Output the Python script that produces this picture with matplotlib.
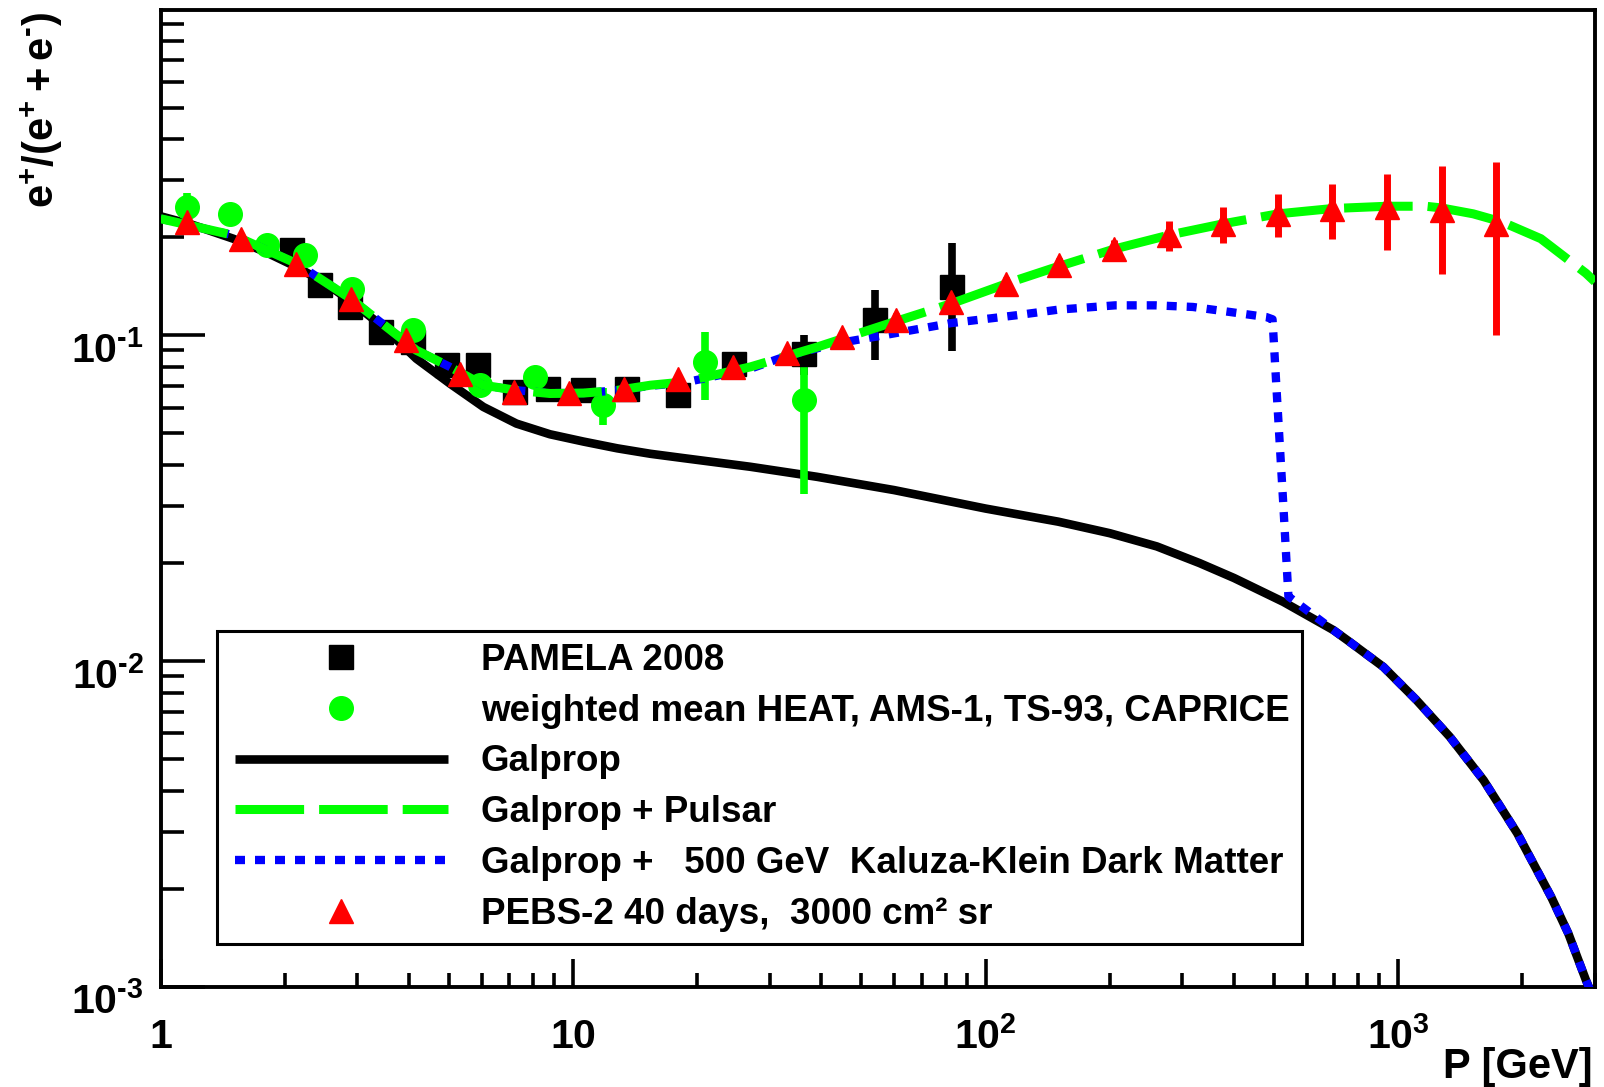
import numpy as np
import matplotlib
matplotlib.use('Agg')
import matplotlib.pyplot as plt
from matplotlib.lines import Line2D
from matplotlib.legend_handler import HandlerLine2D
from matplotlib.transforms import ScaledTranslation
from matplotlib.ticker import FixedLocator, NullFormatter

plt.rcParams['font.family'] = ['Liberation Sans', 'DejaVu Sans']
plt.rcParams['font.weight'] = 'bold'
plt.rcParams['mathtext.fontset'] = 'custom'
plt.rcParams['mathtext.rm'] = 'Liberation Sans:bold'
plt.rcParams['mathtext.it'] = 'Liberation Sans:bold'
plt.rcParams['mathtext.bf'] = 'Liberation Sans:bold'
plt.rcParams['mathtext.sf'] = 'Liberation Sans:bold'
plt.rcParams['mathtext.default'] = 'rm'

HY = '\u2010'  # short hyphen used as superscript minus

# ---------------- data ----------------
pam_x = [2.08, 2.44, 2.88, 3.42, 4.10, 4.94, 5.89, 7.23, 8.71, 10.6, 13.5, 18.0, 24.5, 36.2, 54.0, 82.8]
pam_y = [0.1823, 0.1424, 0.1221, 0.1023, 0.0954, 0.0809, 0.0809, 0.0670, 0.0686, 0.0678, 0.0686,
         0.0655, 0.0819, 0.0879, 0.1112, 0.1406]
pam_err = [0.004, 0.003, 0.003, 0.002, 0.002, 0.002, 0.002, 0.002, 0.002, 0.002, 0.003,
           0.004, 0.007, 0.0125, 0.027, 0.051]

heat_x = [1.159, 1.474, 1.809, 2.24, 2.91, 4.10, 5.95, 8.09, 11.85, 20.9, 36.2]
heat_y = [0.2475, 0.2363, 0.1888, 0.176, 0.139, 0.1036, 0.0703, 0.0745, 0.0610, 0.0828, 0.0635]
heat_err = [0.025, 0.012, 0.006, 0.006, 0.006, 0.005, 0.004, 0.004, 0.008, 0.0195, 0.031]

pebs_x = [1.16, 1.57, 2.13, 2.89, 3.93, 5.32, 7.21, 9.77, 13.3, 18.0, 24.4, 33.0, 44.8, 60.8,
          82.4, 112, 151, 205, 278, 377, 512, 693, 940, 1274, 1726]
pebs_y = [0.2226, 0.198, 0.166, 0.1296, 0.0965, 0.0763, 0.067, 0.0665, 0.0686, 0.0736, 0.080,
          0.0882, 0.0988, 0.1117, 0.1265, 0.1441, 0.164, 0.1836, 0.2026, 0.220, 0.2363, 0.2447,
          0.2475, 0.2418, 0.220]
pebs_err = [0.003, 0.003, 0.003, 0.003, 0.003, 0.002, 0.002, 0.002, 0.002, 0.002, 0.003, 0.003,
            0.004, 0.005, 0.006, 0.007, 0.009, 0.013, 0.021, 0.0275, 0.036, 0.047, 0.065, 0.088, 0.12]

gal_x = [1.0, 1.2, 1.5, 1.8, 2.14, 2.5, 2.88, 3.47, 4.17, 5.03, 6.06, 7.29, 8.79, 10.6, 12.8,
         15.4, 18.5, 26.9, 39.0, 60, 100, 150, 200, 260, 330, 400, 527, 697, 760, 921, 1107, 1334,
         1611, 1945, 2349, 2585, 2852, 3000]
gal_y = [0.232, 0.218, 0.198, 0.180, 0.162, 0.145, 0.1278, 0.106, 0.0848, 0.0711, 0.0603, 0.0536,
         0.0497, 0.0472, 0.0450, 0.0433, 0.0420, 0.0395, 0.0368, 0.0335, 0.0294, 0.0268, 0.0247,
         0.0225, 0.0200, 0.0180, 0.0152, 0.01245, 0.0115, 0.0096, 0.0076, 0.00586, 0.00431,
         0.00296, 0.00189, 0.00146, 0.00105, 0.0009]

psr_x = [1.0, 1.5, 2.14, 2.88, 3.47, 4.17, 5.03, 6.06, 7.29, 8.79, 10.6, 12.8, 15.4, 18.5, 26.9,
         39.0, 56.5, 82.4, 118.5, 144, 205, 278, 377, 512, 693, 940, 1167, 1274, 1520, 1790, 2217,
         2853, 3000]
psr_y = [0.228, 0.203, 0.166, 0.130, 0.108, 0.090, 0.080, 0.0703, 0.0678, 0.0663, 0.0665, 0.0678,
         0.0703, 0.0719, 0.080, 0.092, 0.1073, 0.125, 0.1475, 0.160, 0.184, 0.203, 0.220, 0.236,
         0.245, 0.249, 0.249, 0.246, 0.236, 0.2226, 0.198, 0.155, 0.146]

kk_x = [1.0, 1.5, 2.14, 2.88, 3.47, 4.17, 5.03, 6.06, 7.29, 8.79, 10.6, 12.8, 15.4, 18.5, 26.9,
        33.0, 43.5, 56.5, 82.4, 118.5, 150, 206, 258, 318, 392, 479, 496, 509, 526, 542, 697, 760,
        921, 1107, 1334, 1611, 1945, 2349, 2585, 2852, 3000]
kk_y = [0.228, 0.203, 0.166, 0.130, 0.108, 0.090, 0.080, 0.0703, 0.0678, 0.0665, 0.0665, 0.0678,
        0.0700, 0.0715, 0.079, 0.0865, 0.0944, 0.100, 0.109, 0.1152, 0.1199, 0.1236, 0.1236,
        0.1222, 0.1179, 0.1138, 0.112, 0.0633, 0.0312, 0.0158, 0.01245, 0.0115, 0.0096, 0.0076,
        0.00586, 0.00431, 0.00296, 0.00189, 0.00146, 0.00105, 0.0009]

x_major = [1, 10, 100, 1000]
x_major_labels = ['$1$', '$10$', '$10^{2}$', '$10^{3}$']
y_major = [1e-3, 1e-2, 1e-1]
y_major_labels = ['$10^{%s3}$' % HY, '$10^{%s2}$' % HY, '$10^{%s1}$' % HY]

labels = ['PAMELA 2008',
          'weighted mean HEAT, AMS-1, TS-93, CAPRICE',
          'Galprop',
          'Galprop + Pulsar',
          'Galprop +   500 GeV  Kaluza-Klein Dark Matter',
          'PEBS-2 40 days,  3000 cm\u00b2 sr']

GREEN = '#00ff00'
RED = '#ff0000'
BLUE = '#0000ff'

# ---------------- figure ----------------
W, H = 1604, 1087
fig = plt.figure(figsize=(W / 100, H / 100), dpi=100)
L, R, T, B = 160.5, 1595, 9.5, 987
ax = fig.add_axes([L / W, 1 - B / H, (R - L) / W, (B - T) / H])
ax.set_xscale('log')
ax.set_yscale('log')
ax.set_xlim(1, 3000)
ax.set_ylim(1e-3, 1)

gal_line, = ax.plot(gal_x, gal_y, color='black', lw=6.2, solid_capstyle='butt', zorder=2)
ax.errorbar(pam_x, pam_y, yerr=pam_err, fmt='s', color='black', ms=17.5,
            elinewidth=5.5, capsize=0, zorder=3)
ax.errorbar(heat_x, heat_y, yerr=heat_err, fmt='o', color=GREEN, ms=17,
            elinewidth=5.5, capsize=0, zorder=3)
kk_line, = ax.plot(kk_x, kk_y, color=BLUE, lw=6, ls=(0, (1.2, 1.2)),
                   dash_capstyle='butt', zorder=4)
psr_line, = ax.plot(psr_x, psr_y, color=GREEN, lw=6.5, ls=(0, (7.6, 1.66)),
                    dash_capstyle='butt', zorder=5)
ax.errorbar(pebs_x, pebs_y, yerr=pebs_err, fmt='^', color=RED, ms=17.5,
            elinewidth=5, capsize=0, zorder=6)

# spines
for s in ax.spines.values():
    s.set_linewidth(2.8)

# ticks
ax.xaxis.set_major_locator(FixedLocator(x_major))
ax.set_xticklabels(x_major_labels)
ax.xaxis.set_minor_locator(FixedLocator([m * d for d in [1, 10, 100, 1000] for m in range(2, 10)]))
ax.xaxis.set_minor_formatter(NullFormatter())
ax.yaxis.set_major_locator(FixedLocator(y_major))
ax.set_yticklabels(y_major_labels)
ax.yaxis.set_minor_locator(FixedLocator([m * d for d in [1e-3, 1e-2, 1e-1] for m in range(2, 10)]))
ax.yaxis.set_minor_formatter(NullFormatter())

ax.tick_params(axis='x', which='major', direction='in', length=20, width=2.6,
               labelsize=29.5, pad=44, top=False)
ax.tick_params(axis='x', which='minor', direction='in', length=10, width=2.6, top=False)
ax.tick_params(axis='y', which='major', direction='in', length=32, width=2.6,
               labelsize=29.5, pad=12, right=False)
ax.tick_params(axis='y', which='minor', direction='in', length=16.5, width=2.6, right=False)

for lbl in ax.get_xticklabels():
    lbl.set_va('baseline')
for lbl in ax.get_yticklabels():
    lbl.set_va('baseline')
    lbl.set_transform(lbl.get_transform() + ScaledTranslation(0, -0.27, fig.dpi_scale_trans))

# axis titles
fig.text(42 / W, 1 - 12 / H, r'$e^{+}/(e^{+}+e^{%s})$' % HY, rotation=90, ha='center', va='top',
         fontsize=30)
fig.text(1593 / W, 1 - 1078 / H, 'P [GeV]', ha='right', va='baseline', fontsize=30,
         fontweight='bold')

# legend
h_pam = Line2D([], [], ls='none', marker='s', color='black', ms=17.5)
h_heat = Line2D([], [], ls='none', marker='o', color=GREEN, ms=17)
h_pebs = Line2D([], [], ls='none', marker='^', color=RED, ms=17.5)
handles = [h_pam, h_heat, gal_line, psr_line, kk_line, h_pebs]

lx0 = (217 - L) / (R - L)
lx1 = (1302 - L) / (R - L)
ly0 = (B - 938) / (B - T)
ly1 = (B - 631) / (B - T)
hl = HandlerLine2D(numpoints=2, marker_pad=0.17)
leg = ax.legend(handles, labels, loc='upper left',
                bbox_to_anchor=(lx0, ly0, lx1 - lx0, ly1 - ly0), mode='expand',
                borderaxespad=0, fontsize=26.5, numpoints=1, borderpad=0.32,
                labelspacing=0.43, handlelength=6.12, handletextpad=0.73,
                handler_map={gal_line: hl, psr_line: hl, kk_line: hl},
                frameon=True, fancybox=False, edgecolor='black', framealpha=1)
leg.get_frame().set_linewidth(2.2)
leg.set_zorder(10)

fig.savefig('out.png', dpi=100)
